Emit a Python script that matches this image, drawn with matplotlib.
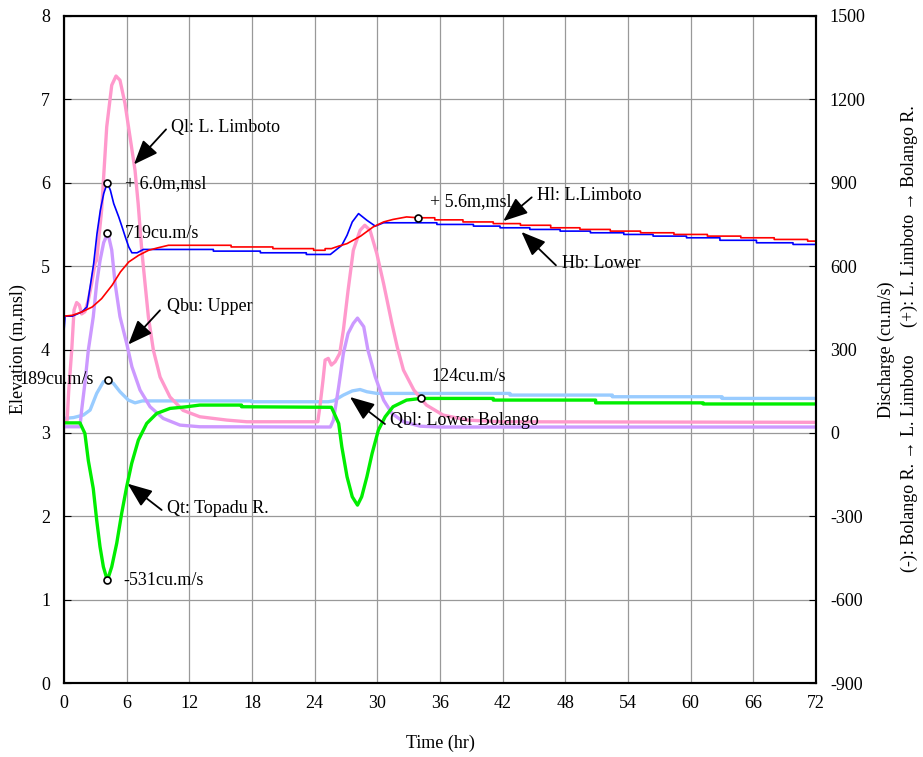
import numpy as np
import matplotlib
matplotlib.use("Agg")
import matplotlib.pyplot as plt

plt.rcParams['font.family'] = ['Liberation Serif', 'DejaVu Serif']
plt.rcParams['axes.unicode_minus'] = False

# ---- water levels (m,msl) ----
t_hl = [0, 0.8, 1.7, 2.7, 3.6, 4.6, 5.4, 6.2, 7.15, 8.1, 9.0, 10.0, 16.0, 16.0, 20.0, 20.0,
        23.9, 23.9, 25.0, 25.0, 25.6, 26.3, 27.1, 28.4, 29.6, 30.6, 31.5, 32.8, 33.9, 35.5, 35.5,
        38.2, 38.2, 41.1, 41.1, 43.7, 43.7, 46.6, 46.6, 49.4, 49.4, 52.3, 52.3, 55.2, 55.2,
        58.4, 58.4, 61.6, 61.6, 64.8, 64.8, 68.0, 68.0, 71.2, 71.2, 72]
hl = [4.40, 4.41, 4.45, 4.51, 4.61, 4.77, 4.93, 5.05, 5.13, 5.19, 5.22, 5.25, 5.25, 5.23, 5.23, 5.21,
      5.21, 5.19, 5.19, 5.21, 5.21, 5.24, 5.27, 5.36, 5.47, 5.53, 5.56, 5.59, 5.58, 5.58, 5.555,
      5.555, 5.53, 5.53, 5.51, 5.51, 5.49, 5.49, 5.46, 5.46, 5.44, 5.44, 5.42, 5.42, 5.40,
      5.40, 5.38, 5.38, 5.36, 5.36, 5.34, 5.34, 5.32, 5.32, 5.30, 5.30]

t_hb = [0, 0.1, 0.8, 1.7, 2.2, 2.5, 2.84, 3.16, 3.48, 3.8, 4.15, 4.44, 4.76, 5.24, 5.56, 5.87,
        6.2, 6.5, 7.0, 7.6, 14.3, 14.3, 18.8, 18.8, 23.2, 23.2, 25.5, 26.6, 27.1, 27.6, 28.2,
        29.0, 29.8, 30.6, 35.7, 35.7, 39.2, 39.2, 41.75, 41.75, 44.6, 44.6, 47.5, 47.5, 50.4, 50.4,
        53.6, 53.6, 56.4, 56.4, 59.6, 59.6, 62.8, 62.8, 66.3, 66.3, 69.8, 69.8, 72]
hb = [4.22, 4.40, 4.40, 4.45, 4.51, 4.75, 5.03, 5.39, 5.67, 5.87, 6.00, 5.91, 5.75, 5.59, 5.47, 5.35,
      5.23, 5.16, 5.16, 5.20, 5.20, 5.18, 5.18, 5.16, 5.16, 5.14, 5.14, 5.25, 5.37, 5.53, 5.63,
      5.55, 5.48, 5.52, 5.52, 5.50, 5.50, 5.48, 5.48, 5.46, 5.46, 5.44, 5.44, 5.42, 5.42, 5.40,
      5.40, 5.38, 5.38, 5.36, 5.36, 5.34, 5.34, 5.31, 5.31, 5.28, 5.28, 5.26, 5.26]

# ---- discharges (cu.m/s) ----
t_ql = [0, 0.3, 0.45, 0.74, 0.96, 1.21, 1.47, 1.69, 2.0, 2.33, 2.65, 2.97, 3.13, 3.6, 4.09, 4.57,
        4.98, 5.36, 5.84, 6.32, 6.8, 7.1, 7.44, 7.76, 8.08, 8.56, 9.2, 10.15, 11.4, 13.0, 15.6,
        17.5, 24.3, 24.5, 24.8, 25.0, 25.3, 25.6, 25.96, 26.4, 26.75, 27.2, 27.7, 28.35, 28.8,
        29.3, 29.95, 30.6, 31.4, 31.9, 32.5, 33.5, 34.7, 36.3, 38.6, 41.8, 72]
ql = [40, 45, 150, 298, 442, 469, 460, 428, 436, 478, 538, 610, 622, 801, 1101, 1251,
      1284, 1269, 1185, 1065, 945, 825, 660, 537, 417, 297, 201, 129, 81, 58, 46,
      40, 40, 94, 190, 262, 268, 244, 256, 286, 370, 513, 657, 729, 747,
      729, 645, 537, 393, 310, 226, 154, 100, 64, 46, 40, 38]

t_qbu = [0, 1.53, 1.69, 2.0, 2.33, 2.8, 3.13, 3.45, 3.8, 4.2, 4.57, 4.89, 5.36, 6.0, 6.5, 7.28,
         8.24, 9.5, 11.1, 13.0, 25.5, 25.8, 26.3, 26.75, 27.2, 27.7, 28.1, 28.7, 29.1, 29.8,
         30.6, 31.4, 32.5, 34.1, 36.0, 72]
qbu = [22, 22, 82, 178, 298, 417, 538, 620, 685, 719, 658, 538, 418, 322, 238, 154,
       94, 52, 28, 22, 21, 46, 166, 286, 358, 394, 413, 382, 298, 202,
       118, 70, 40, 24, 21, 21]

t_qbl = [0, 0.9, 1.85, 2.5, 3.13, 3.77, 4.18, 4.73, 5.36, 6.16, 6.8, 7.5, 18.0, 18.0, 25.3,
         25.8, 26.75, 27.6, 28.35, 29.0, 29.95, 42.7, 42.7, 52.5, 52.5, 63.0, 63.0, 72]
qbl = [52, 55, 64, 82, 142, 184, 189, 178, 148, 118, 108, 115, 115, 112, 112,
       115, 136, 151, 156, 148, 142, 142, 136, 136, 130, 130, 124, 124]

t_qt = [0, 1.53, 2.0, 2.33, 2.8, 3.13, 3.45, 3.77, 4.15, 4.57, 5.05, 5.52, 6.0, 6.48, 7.12, 7.92,
        8.88, 10.15, 11.75, 13.0, 17.0, 17.0, 25.6, 25.8, 26.3, 26.6, 27.1, 27.6, 28.1, 28.5,
        29.0, 29.5, 30.1, 30.75, 31.5, 32.8, 34.2, 41.1, 41.1, 50.9, 50.9, 61.2, 61.2, 72]
qt = [36, 36, -2, -100, -200, -314, -410, -482, -531, -482, -397, -290, -194, -110, -26, 34,
      70, 88, 94, 100, 100, 94, 92, 76, 34, -50, -158, -230, -260, -230,
      -158, -74, 10, 58, 94, 118, 124, 124, 118, 118, 108, 108, 104, 104]

fig = plt.figure(figsize=(9.23, 7.57), dpi=100)
ax = fig.add_axes([64 / 923, 74 / 757, 752 / 923, 667 / 757])
ax_e = ax.twinx()

# discharge axis on the right (drawn first, carries the grid)
ax.yaxis.tick_right()
ax.yaxis.set_label_position('right')
ax_e.yaxis.tick_left()
ax_e.yaxis.set_label_position('left')

ax.set_xlim(0, 72)
ax.set_ylim(-900, 1500)
ax.set_xticks(np.arange(0, 73, 6))
ax.set_yticks(np.arange(-900, 1501, 300))
ax.grid(True, color='#999999', lw=0.9)
ax.set_axisbelow(True)

ax_e.set_ylim(0, 8)
ax_e.set_yticks(np.arange(0, 9, 1))

for a in (ax, ax_e):
    for s in a.spines.values():
        s.set_linewidth(1.5)
ax.tick_params(axis='y', direction='in', length=5, pad=10, labelsize=13)
ax.tick_params(axis='x', direction='in', length=0, pad=9, labelsize=13)
ax_e.tick_params(axis='y', direction='in', length=5, pad=10, labelsize=13)

ax.plot(t_qbl, qbl, color='#99ccff', lw=2.4)
ax.plot(t_qbu, qbu, color='#cc99ff', lw=2.4)
ax.plot(t_ql, ql, color='#ff99cc', lw=2.4)
ax.plot(t_qt, qt, color='#00ee00', lw=2.4)

ax_e.plot(t_hb, hb, color='#0000ff', lw=1.2)
ax_e.plot(t_hl, hl, color='#ff0000', lw=1.2)

mk = dict(marker='o', ms=5, mfc='white', mec='black', mew=1.2, ls='none', zorder=10)
ax_e.plot([4.15], [6.0], **mk)
ax_e.plot([33.9], [5.58], **mk)
ax.plot([4.15, 4.18, 4.15, 34.2], [719, 189, -531, 124], **mk)

fs = 13
ax_e.text(5.87, 5.985, '+ 6.0m,msl', fontsize=fs, va='center')
ax_e.text(35.0, 5.77, '+ 5.6m,msl', fontsize=fs, va='center')
ax.text(5.87, 719, '719cu.m/s', fontsize=fs, va='center')
ax.text(2.85, 193, '189cu.m/s', fontsize=fs, va='center', ha='right')
ax.text(5.68, -531, '-531cu.m/s', fontsize=fs, va='center')
ax.text(35.2, 202, '124cu.m/s', fontsize=fs, va='center')

arrow = dict(arrowstyle='-|>,head_length=0.75,head_width=0.3', mutation_scale=20,
             color='black', lw=1.3, shrinkA=0, shrinkB=0)
labels = [
    ('Ql: L. Limboto', (10.25, 6.66), (9.77, 6.64), (6.70, 6.22)),
    ('Qbu: Upper', (9.83, 4.51), (9.19, 4.47), (6.16, 4.06)),
    ('Qt: Topadu R.', (9.83, 2.09), (9.35, 2.075), (6.10, 2.39)),
    ('Hl: L.Limboto', (45.3, 5.85), (44.78, 5.825), (42.06, 5.54)),
    ('Hb: Lower', (47.65, 5.03), (47.1, 5.01), (43.8, 5.41)),
    ('Qbl: Lower Bolango', (31.2, 3.154), (30.73, 3.106), (27.38, 3.43)),
]
for txt, pos, tail, head in labels:
    ax_e.annotate('', xy=head, xytext=tail, arrowprops=arrow, zorder=11)
    ax_e.text(pos[0], pos[1], txt, fontsize=fs, va='center', zorder=11)

ax.set_xlabel('Time (hr)', fontsize=fs)
ax.xaxis.set_label_coords(0.5, -0.077)
ax_e.set_ylabel('Elevation (m,msl)', fontsize=fs)
ax_e.yaxis.set_label_coords(-0.049, 0.5)
ax.set_ylabel('Discharge (cu.m/s)', fontsize=fs)
ax.yaxis.set_label_coords(1.082, 0.5)
ax.text(1.124, 0.33, '(-): Bolango R. \u2192 L. Limboto', transform=ax.transAxes,
        rotation=90, fontsize=fs, ha='center', va='center')
ax.text(1.124, 0.70, '(+): L. Limboto \u2192 Bolango R.', transform=ax.transAxes,
        rotation=90, fontsize=fs, ha='center', va='center')

fig.savefig('out.png', dpi=100)
